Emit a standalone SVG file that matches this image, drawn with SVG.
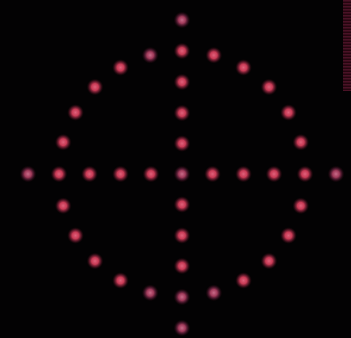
<svg xmlns="http://www.w3.org/2000/svg" width="351" height="338" viewBox="0 0 351 338">
<defs>
<radialGradient id="led">
<stop offset="0" stop-color="#e0607a"/>
<stop offset="0.4" stop-color="#c83a55"/>
<stop offset="0.7" stop-color="#6a1a2e" stop-opacity="0.7"/>
<stop offset="1" stop-color="#200508" stop-opacity="0"/>
</radialGradient>
<radialGradient id="ledDim">
<stop offset="0" stop-color="#c86a88"/>
<stop offset="0.4" stop-color="#a03a5a"/>
<stop offset="0.7" stop-color="#501830" stop-opacity="0.7"/>
<stop offset="1" stop-color="#200508" stop-opacity="0"/>
</radialGradient>
<pattern id="stripes" width="9" height="3" patternUnits="userSpaceOnUse">
<rect width="9" height="3" fill="#24060f"/>
<rect width="9" height="1.5" fill="#4a1226"/>
</pattern>
<circle id="d" r="8.5" fill="url(#led)"/>
<circle id="e" r="8.5" fill="url(#ledDim)"/>
</defs>
<rect width="351" height="338" fill="#030203"/>
<rect x="343" y="0" width="8" height="91" fill="url(#stripes)"/>
<g id="ring">
<use href="#d" x="182" y="51"/>
<use href="#d" x="213.8" y="55.2"/>
<use href="#d" x="243.5" y="67.5"/>
<use href="#d" x="269" y="87"/>
<use href="#d" x="288.5" y="112.5"/>
<use href="#d" x="300.8" y="142.2"/>
<use href="#d" x="305" y="174"/>
<use href="#d" x="300.8" y="205.8"/>
<use href="#d" x="288.5" y="235.5"/>
<use href="#d" x="269" y="261"/>
<use href="#d" x="243.5" y="280.5"/>
<use href="#e" x="213.8" y="292.8"/>
<use href="#e" x="182" y="297"/>
<use href="#e" x="150.2" y="292.8"/>
<use href="#d" x="120.5" y="280.5"/>
<use href="#d" x="95" y="261"/>
<use href="#d" x="75.5" y="235.5"/>
<use href="#d" x="63.2" y="205.8"/>
<use href="#d" x="59" y="174"/>
<use href="#d" x="63.2" y="142.2"/>
<use href="#d" x="75.5" y="112.5"/>
<use href="#d" x="95" y="87"/>
<use href="#d" x="120.5" y="67.5"/>
<use href="#e" x="150.2" y="55.2"/>
</g>
<g id="cross">
<use href="#e" x="28" y="174"/>
<use href="#d" x="89.5" y="174"/>
<use href="#d" x="120.5" y="174"/>
<use href="#d" x="151" y="174"/>
<use href="#e" x="182" y="174"/>
<use href="#d" x="212.5" y="174"/>
<use href="#d" x="243.5" y="174"/>
<use href="#d" x="274" y="174"/>
<use href="#e" x="336" y="174"/>
<use href="#e" x="182" y="20"/>
<use href="#d" x="182" y="82"/>
<use href="#d" x="182" y="113"/>
<use href="#d" x="182" y="143.5"/>
<use href="#d" x="182" y="204.5"/>
<use href="#d" x="182" y="235.5"/>
<use href="#d" x="182" y="266"/>
<use href="#e" x="182" y="328"/>
</g>
</svg>
